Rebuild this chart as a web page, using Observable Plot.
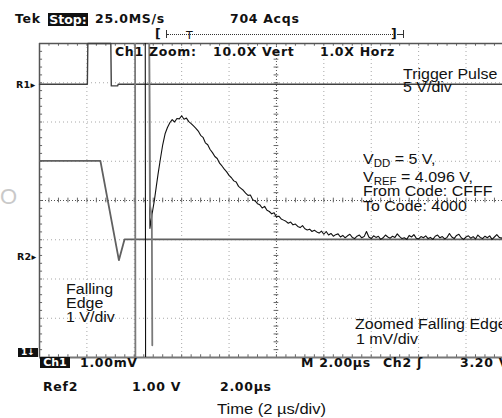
<!DOCTYPE html>
<html><head><meta charset="utf-8">
<script src="https://cdn.jsdelivr.net/npm/d3@7"></script>
<script src="https://cdn.jsdelivr.net/npm/@observablehq/plot@0.6"></script>
<style>
html,body{margin:0;padding:0;background:#fff;overflow:hidden;}
#wrap{position:relative;width:502px;height:418px;overflow:hidden;background:#fff;}
#wrap svg{position:absolute;left:0;top:0;}
.lbl{position:absolute;white-space:pre;}
.scope{font-family:"DejaVu Sans",sans-serif;font-weight:bold;letter-spacing:0.7px;color:#111;line-height:1;}
.ann{font-family:"Liberation Sans",Arial,sans-serif;color:#111;transform:scaleX(1.14);transform-origin:0 0;line-height:0.85;}
.ann sub{font-size:0.72em;vertical-align:-0.3em;line-height:0;}
.box{position:absolute;background:#111;color:#fff;font-family:"DejaVu Sans",sans-serif;font-weight:bold;text-align:center;white-space:pre;}
</style></head><body><div id="wrap"></div>
<script>
// ---- Trigger pulse (R1), time in µs, level in screen divisions (5 V/div)
const triggerTime = [0, 2.02, 2.04, 3.01, 3.03, 3.30, 3.32, 19.6];
const triggerDiv  = [2.96, 2.96, 4.0, 4.0, 2.92, 2.92, 2.96, 2.96];

// ---- Falling edge (Ref2), 1 V/div
const ref2Time = [0, 2.57, 3.35, 3.59, 19.6];
const ref2Div  = [1.01, 1.01, -1.52, -0.99, -0.99];

// ---- Second (gray) zoomed pass, off-scale spikes (null = gap)
const ghostTime = [4.03, 4.05, 4.30, 4.62, 4.66, 4.74, 4.76];
const ghostDiv  = [6, -6, null, 6, -0.12, -0.40, -3.69];

// ---- Zoomed falling edge (Ch1), 1 mV/div
const ch1Time = [4.46, 4.48, 4.55, 4.63, 4.66, 4.75, 4.85, 4.93,
 5.0,5.1,5.2,5.3,5.4,5.5,5.6,5.7,5.8,5.9,
 6.0,6.1,6.2,6.3,6.4,6.5,6.6,6.7,6.8,6.9,
 7.0,7.1,7.2,7.3,7.4,7.5,7.6,7.7,7.8,7.9,
 8.0,8.1,8.2,8.3,8.4,8.5,8.6,8.7,8.8,8.9,
 9.0,9.1,9.2,9.3,9.4,9.5,9.6,9.7,9.8,9.9,
 10.0,10.1,10.2,10.3,10.4,10.5,10.6,10.7,10.8,10.9,
 11.0,11.1,11.2,11.3,11.4,11.5,11.6,11.7,11.8,11.9,
 12.0,12.1,12.2,12.3,12.4,12.5,12.6,12.7,12.8,12.9,
 13.0,13.1,13.2,13.3,13.4,13.5,13.6,13.7,13.8,13.9,
 14.0,14.1,14.2,14.3,14.4,14.5,14.6,14.7,14.8,14.9,
 15.0,15.1,15.2,15.3,15.4,15.5,15.6,15.7,15.8,15.9,
 16.0,16.1,16.2,16.3,16.4,16.5,16.6,16.7,16.8,16.9,
 17.0,17.1,17.2,17.3,17.4,17.5,17.6,17.7,17.8,17.9,
 18.0,18.1,18.2,18.3,18.4,18.5,18.6,18.7,18.8,18.9,
 19.0,19.1,19.2,19.3,19.4,19.5,19.6];
const ch1Div = [6, -6, null, 6, -0.71, -0.35, 0.01, 0.36,
 0.66,1.05,1.42,1.70,1.86,1.98,2.06,2.00,2.09,2.08,
 2.16,2.07,2.10,2.01,1.96,1.90,1.84,1.77,1.66,1.61,
 1.47,1.42,1.30,1.22,1.12,1.07,0.95,0.88,0.80,0.73,
 0.64,0.58,0.50,0.47,0.36,0.31,0.26,0.19,0.13,0.14,
 0.02,-0.01,-0.08,-0.11,-0.19,-0.15,-0.25,-0.28,-0.34,-0.31,
 -0.42,-0.40,-0.47,-0.50,-0.53,-0.58,-0.55,-0.62,-0.60,-0.66,
 -0.69,-0.64,-0.72,-0.75,-0.73,-0.79,-0.76,-0.80,-0.83,-0.78,
 -0.86,-0.79,-0.88,-0.84,-0.91,-0.87,-0.85,-0.93,-0.89,-0.95,
 -0.90,-0.86,-0.94,-0.97,-0.91,-0.88,-0.95,-0.92,-0.79,-0.93,
 -0.97,-0.90,-0.94,-0.91,-0.99,-0.95,-0.88,-0.93,-0.96,-0.91,
 -0.94,-0.85,-0.92,-0.97,-0.95,-0.99,-0.89,-0.93,-0.87,-0.96,
 -0.98,-0.92,-0.95,-0.90,-0.97,-0.94,-0.99,-0.91,-0.88,-0.95,
 -0.92,-0.98,-0.94,-0.84,-0.93,-0.97,-0.89,-0.86,-0.95,-0.99,
 -0.93,-0.90,-0.96,-0.92,-0.98,-0.88,-0.94,-0.97,-0.91,-0.95,
 -0.90,-0.99,-0.93,-0.87,-0.94,-0.96,-0.91];

// ---- graticule
const majorTime = [2,4,6,8,12,14,16,18];
const majorDiv = [-3,-2,-1,1,2,3];
const centerTime = [10];
const centerDiv = [0];
const minorTime = d3.range(0, 19.6, 0.4);
const minorDiv = d3.range(-4, 4.001, 0.2);

const rows = (ts, vs) => ts.map((t, i) => ({t, v: vs[i]}));

const plot = Plot.plot({
  width: 502, height: 418,
  marginLeft: 39, marginRight: 0, marginTop: 43, marginBottom: 61,
  x: {domain: [0, 19.54], axis: null},
  y: {domain: [-4, 4], axis: null},
  style: {background: "transparent", overflow: "hidden"},
  marks: [
    Plot.ruleX(majorTime, {stroke: "#a8a8a8", strokeDasharray: "1,3"}),
    Plot.ruleY(majorDiv, {stroke: "#a8a8a8", strokeDasharray: "1,3"}),
    Plot.ruleX(centerTime, {stroke: "#555", strokeDasharray: "1,2"}),
    Plot.ruleY(centerDiv, {stroke: "#555", strokeDasharray: "1,2"}),
    Plot.ruleX(minorTime, {y1: -0.06, y2: 0.06, stroke: "#666"}),
    Plot.ruleY(minorDiv, {x1: 9.9, x2: 10.1, stroke: "#666"}),
    Plot.ruleX(minorTime, {y1: 4, y2: 3.93, stroke: "#666"}),
    Plot.ruleX(minorTime, {y1: -4, y2: -3.93, stroke: "#666"}),
    Plot.ruleY(minorDiv, {x1: 0, x2: 0.13, stroke: "#666"}),
    Plot.ruleX([0], {stroke: "#555", strokeWidth: 1.5}),
    Plot.ruleY([4], {stroke: "#555", strokeWidth: 1.5}),
    Plot.ruleY([-4], {stroke: "#777", strokeWidth: 2}),
    Plot.line(rows(ref2Time, ref2Div), {x: "t", y: "v", stroke: "#606060", strokeWidth: 1.8, clip: true}),
    Plot.line(rows(triggerTime, triggerDiv), {x: "t", y: "v", stroke: "#404040", strokeWidth: 1.4}),
    Plot.line(rows(ch1Time, ch1Div), {x: "t", y: "v", stroke: "#111", strokeWidth: 1.1, clip: true}),
    Plot.line(rows(ghostTime, ghostDiv), {x: "t", y: "v", stroke: "#7a7a7a", strokeWidth: 1.8, clip: true})
  ]
});
const wrap = document.getElementById("wrap");
wrap.appendChild(plot);

function add(html, x, base, cls, fs, extra) {
  const d = document.createElement("div");
  d.className = "lbl " + cls;
  const off = cls === "ann" ? ((0.85 - 1.117) / 2 + 0.905) : 0.846;
  d.style.left = x + "px";
  d.style.top = (base - off * fs) + "px";
  d.style.fontSize = fs + "px";
  if (extra) Object.assign(d.style, extra);
  d.innerHTML = html;
  wrap.appendChild(d);
}
function box(text, x, y, w, h, fs) {
  const d = document.createElement("div");
  d.className = "box";
  Object.assign(d.style, {left: x + "px", top: y + "px", width: w + "px", height: h + "px",
    fontSize: fs + "px", lineHeight: h + "px"});
  d.textContent = text;
  wrap.appendChild(d);
}
function bar(x, y, w, h, style) {
  const d = document.createElement("div");
  Object.assign(d.style, {position: "absolute", left: x + "px", top: y + "px", width: w + "px", height: h + "px"}, style);
  wrap.appendChild(d);
}

// header
add("Tek", 15, 24, "scope", 12.5);
box("Stop:", 48, 13, 40, 13, 12.5);
add("25.0MS/s", 95, 24, "scope", 12.5);
add("704 Acqs", 230, 24, "scope", 12.5);
add("[", 155, 39, "scope", 12.5);
bar(166, 30, 1, 8, {background: "#333"});
bar(167, 34, 226, 0, {borderTop: "1px dotted #333"});
add("T", 186, 39, "scope", 11, {fontWeight: "normal"});
add("]", 391, 39, "scope", 12.5);
bar(397, 34, 6, 0, {borderTop: "1px solid #333"});
bar(403, 30, 1, 8, {background: "#333"});
add("Ch1 Zoom:", 115, 57, "scope", 12.5);
add("10.0X Vert", 213, 57, "scope", 12.5);
add("1.0X Horz", 320, 57, "scope", 12.5);

// channel markers
add("R1\u25B8", 16, 88, "scope", 9.5, {letterSpacing: "0.3px"});
add("R2\u25B8", 17, 260, "scope", 9.5, {letterSpacing: "0.3px"});
box("1\u2193", 18, 348, 20, 9, 9);

// watermark remnant
add("O", 0, 205, "ann", 22, {color: "#c9c9c9", transform: "none"});

// annotations
add("Trigger Pulse", 403, 80, "ann", 14);
add("5 V/div", 403, 93, "ann", 14);
add("V<sub>DD</sub> = 5 V,", 363, 165, "ann", 14);
add("V<sub>REF</sub> = 4.096 V,", 363, 182.7, "ann", 14);
add("From Code: CFFF", 363, 196.7, "ann", 14);
add("To Code: 4000", 363, 211.7, "ann", 14);
add("Falling", 66, 295, "ann", 14);
add("Edge", 66, 309, "ann", 14);
add("1 V/div", 66, 323, "ann", 14);
add("Zoomed Falling Edge", 355, 330, "ann", 14);
add("1 mV/div", 356, 345, "ann", 14);

// footer
box("Ch1", 40, 357, 30, 11, 11);
add("1.00mV", 80, 368, "scope", 12.5);
add("M 2.00\u00B5s", 301, 368, "scope", 12.5);
add("Ch2 \u0283", 383, 368, "scope", 12.5);
add("3.20 V", 460, 368, "scope", 12.5);
add("Ref2", 43, 392, "scope", 12.5);
add("1.00 V", 132, 392, "scope", 12.5);
add("2.00\u00B5s", 220, 392, "scope", 12.5);
add("Time (2 \u00B5s/div)", 217, 414, "ann", 14.5);
</script></body></html>
